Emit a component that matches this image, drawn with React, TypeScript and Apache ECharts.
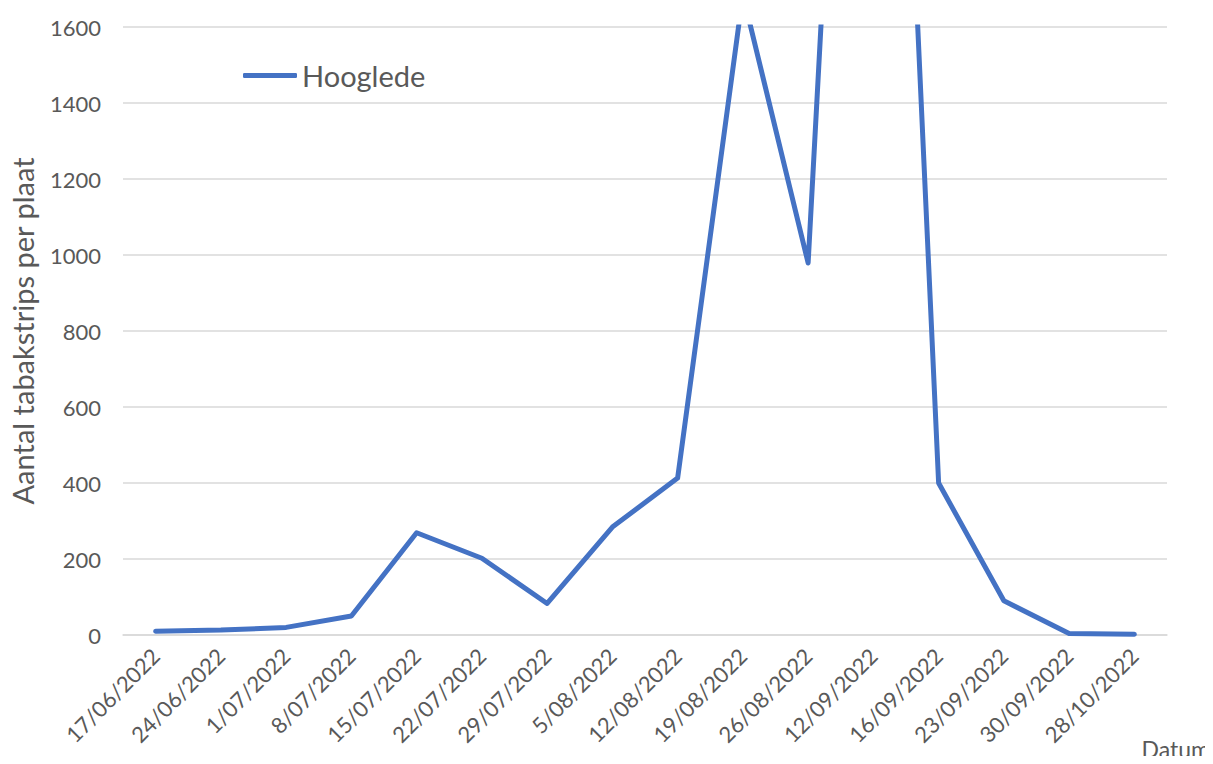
import React, { useEffect, useRef } from "react";
import * as echarts from "echarts";

// Weekly counts of tobacco strips per plate, Hooglede
const dates = [
  "17/06/2022", "24/06/2022", "1/07/2022", "8/07/2022", "15/07/2022",
  "22/07/2022", "29/07/2022", "5/08/2022", "12/08/2022", "19/08/2022",
  "26/08/2022", "12/09/2022", "16/09/2022", "23/09/2022", "30/09/2022",
  "28/10/2022",
];
const hooglede = [10, 13, 20, 50, 269, 202, 83, 284, 413, 1685, 979, 4150, 400, 90, 4, 2];

const seriesName = "Hooglede";
const yAxisTitle = "Aantal tabakstrips per plaat";
const xAxisTitle = "Datum";

const FONT = "Lato, 'Open Sans', sans-serif";
const GREY = "#595959";

export default function App() {
  const ref = useRef<HTMLDivElement>(null);

  useEffect(() => {
    if (!ref.current) return;
    const chart = echarts.init(ref.current, null, { renderer: "svg" });
    chart.setOption({
      animation: false,
      backgroundColor: "#ffffff",
      textStyle: { fontFamily: FONT },
      grid: { left: 123, right: 46, top: 27, bottom: 129, containLabel: false },
      legend: {
        data: [seriesName],
        left: 238,
        top: 56,
        icon: "roundRect",
        itemWidth: 54,
        itemHeight: 5,
        textStyle: { fontFamily: FONT, fontSize: 29, color: GREY },
      },
      xAxis: {
        type: "category",
        data: dates,
        boundaryGap: true,
        axisLine: { show: true, lineStyle: { color: "#d9d9d9", width: 1.5 } },
        axisTick: { show: false },
        axisLabel: {
          rotate: 45,
          interval: 0,
          margin: 17,
          fontFamily: FONT,
          fontSize: 22,
          color: GREY,
        },
      },
      yAxis: {
        type: "value",
        min: 0,
        max: 1600,
        interval: 200,
        axisLine: { show: false },
        axisTick: { show: false },
        splitLine: { lineStyle: { color: "#d9d9d9", width: 1.5 } },
        axisLabel: {
          fontFamily: FONT,
          fontSize: 22,
          color: GREY,
          margin: 22,
          formatter: (v: number) => String(v),
        },
      },
      graphic: [
        {
          type: "text",
          x: 22,
          y: 331,
          rotation: Math.PI / 2,
          style: {
            text: yAxisTitle,
            fontFamily: FONT,
            fontSize: 29,
            fill: GREY,
            align: "center",
            verticalAlign: "middle",
          },
        },
        {
          type: "text",
          x: 1210,
          y: 737,
          style: {
            text: xAxisTitle,
            fontFamily: FONT,
            fontSize: 23,
            fill: GREY,
            align: "right",
            verticalAlign: "top",
          },
        },
      ],
      series: [
        {
          name: seriesName,
          type: "line",
          data: hooglede,
          showSymbol: false,
          symbol: "none",
          clip: true,
          lineStyle: { color: "#4472C4", width: 5, join: "round", cap: "round" },
          itemStyle: { color: "#4472C4" },
        },
      ],
    });
    return () => chart.dispose();
  }, []);

  return <div ref={ref} style={{ width: 1213, height: 764, margin: -8 }} />;
}
